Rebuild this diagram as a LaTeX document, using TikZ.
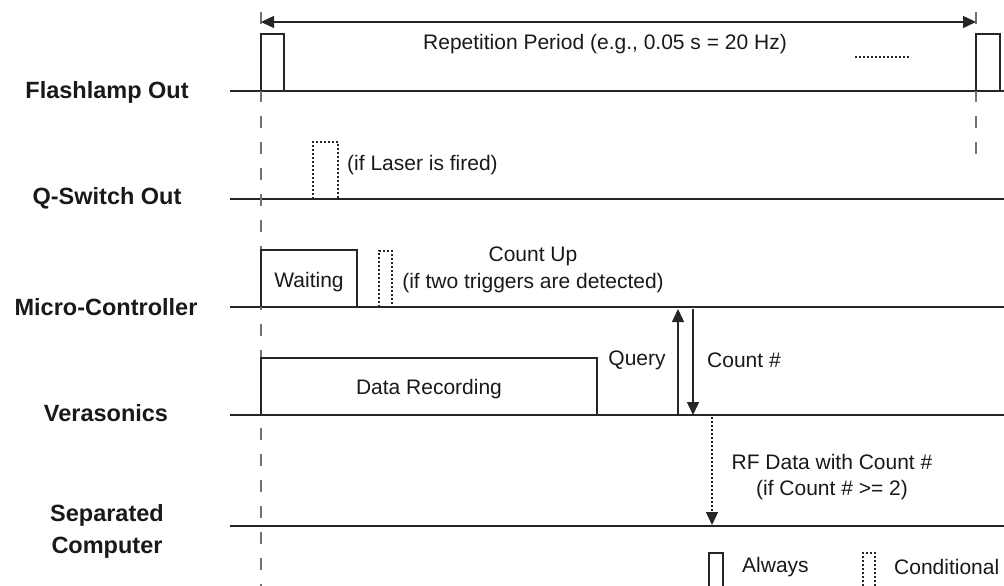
\documentclass[tikz,border=0pt]{standalone}
\usepackage{fontspec}
\setmainfont{Liberation Sans}
\usetikzlibrary{arrows.meta}
\begin{document}
\begin{tikzpicture}[x=1pt,y=-1pt,
  tl/.style={line width=2pt, draw=black!85},
  pulse/.style={line width=1.2pt, draw=black!85},
  cpulse/.style={line width=1.2pt, draw=black!85, dash pattern=on 2pt off 2pt},
  guide/.style={line width=1.2pt, draw=black!55, dash pattern=on 12pt off 14pt},
  lbl/.style={font=\fontsize{23.5}{32}\selectfont\bfseries, align=center, inner sep=0pt, text=black!90},
  txt/.style={font=\fontsize{21}{26.5}\selectfont, align=center, inner sep=0pt, text=black!90},
  arr/.style={line width=1.3pt, draw=black!85, -{Triangle[length=13pt,width=12pt]}},
  darr/.style={line width=1.3pt, draw=black!85, dash pattern=on 2pt off 2pt, -{Triangle[length=13pt,width=12pt]}}
]
\useasboundingbox (0,0) rectangle (1004,586);
% labels
\node[lbl] (fl) at (107,92) {Flashlamp Out};
\node[lbl] (qs) at (107,198) {Q-Switch Out};
\node[lbl] (mc) at (106,307) {Micro-Controller};
\node[lbl] (vs) at (106,413) {Verasonics};
\node[lbl] (sc) at (107,531) {Separated\\Computer};
% timelines
\coordinate (flA) at (230,91);  \coordinate (flB) at (1004,91);
\coordinate (qsA) at (230,199); \coordinate (qsB) at (1004,199);
\coordinate (mcA) at (230,307); \coordinate (mcB) at (1004,307);
\coordinate (vsA) at (230,415); \coordinate (vsB) at (1004,415);
\coordinate (scA) at (230,526); \coordinate (scB) at (1004,526);
\draw[tl] (flA) -- (flB);
\draw[tl] (qsA) -- (qsB);
\draw[tl] (mcA) -- (mcB);
\draw[tl] (vsA) -- (vsB);
\draw[tl] (scA) -- (scB);
% guides
\coordinate (g1a) at (261,12); \coordinate (g1b) at (261,586);
\coordinate (g2a) at (976,12); \coordinate (g2b) at (976,160);
\draw[guide] (g1a) -- (g1b);
\draw[guide] (g2a) -- (g2b);
% repetition arrow
\coordinate (ra) at (261,22); \coordinate (rb) at (976,22);
\draw[line width=1.3pt, draw=black!85, {Triangle[length=13pt,width=12pt]}-{Triangle[length=13pt,width=12pt]}] (ra) -- (rb);
\node[txt] (rep) at (605,44) {Repetition Period (e.g., 0.05 s = 20 Hz)};
\coordinate (dA) at (855,57); \coordinate (dB) at (910,57);
\draw[line width=2pt, draw=black!85, dash pattern=on 2pt off 2pt] (dA) -- (dB);
% flashlamp pulses
\draw[pulse] (261,91) -- (261,34) -- (284,34) -- (284,91);
\draw[pulse] (976,91) -- (976,34) -- (1000,34) -- (1000,91);
% Q-switch
\draw[cpulse] (313,199) -- (313,142) -- (338,142) -- (338,199);
\node[txt, anchor=west] (qtxt) at (347,165) {(if Laser is fired)};
% micro-controller
\draw[pulse] (261,307) -- (261,250) -- (357,250) -- (357,307);
\node[txt] (wait) at (309,282) {Waiting};
\draw[cpulse] (379,307) -- (379,251) -- (392,251) -- (392,307);
\node[txt] (cu) at (533,270) {Count Up\\(if two triggers are detected)};
% Verasonics
\draw[pulse] (261,415) -- (261,358) -- (597,358) -- (597,415);
\node[txt] (dr) at (429,389) {Data Recording};
\coordinate (qA) at (678,415); \coordinate (qB) at (678,309);
\draw[arr] (qA) -- (qB);
\node[txt] (query) at (637,360) {Query};
\coordinate (cA) at (693,309); \coordinate (cB) at (693,415);
\draw[arr] (cA) -- (cB);
\node[txt, anchor=west] (cnt) at (707,360) {Count \#};
% RF data
\coordinate (rfA) at (712,417); \coordinate (rfB) at (712,525);
\draw[darr] (rfA) -- (rfB);
\node[txt] (rf) at (832,477) {RF Data with Count \#\\(if Count \# >= 2)};
% legend
\draw[pulse] (709,590) -- (709,553) -- (723,553) -- (723,590);
\node[txt, anchor=west] (alw) at (742,567) {Always};
\draw[cpulse] (863,590) -- (863,553) -- (875,553) -- (875,590);
\node[txt, anchor=west] (cond) at (894,567) {Conditional};
\end{tikzpicture}
\end{document}
